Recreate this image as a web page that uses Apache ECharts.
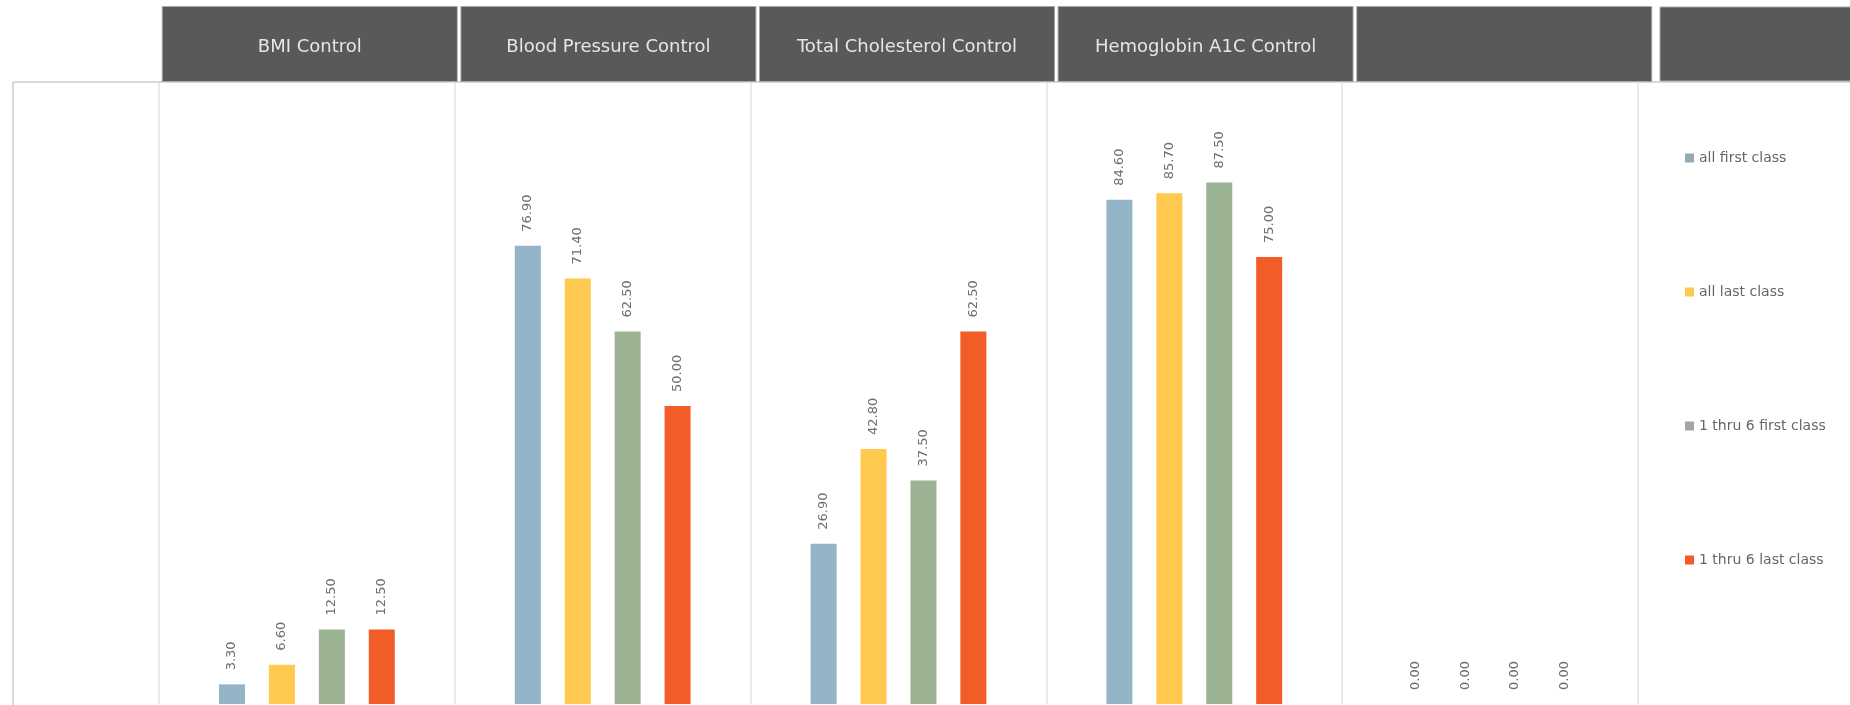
<!DOCTYPE html>
<html>
<head>
<meta charset="utf-8">
<script src="https://cdn.jsdelivr.net/npm/echarts@6/dist/echarts.min.js"></script>
<style>
html,body{margin:0;padding:0;background:#fff;}
#chart{width:1850px;height:705px;}
</style>
</head>
<body>
<div id="chart"></div>
<script>
const categories = ['BMI Control', 'Blood Pressure Control', 'Total Cholesterol Control', 'Hemoglobin A1C Control', ''];
const seriesNames = ['all first class', 'all last class', '1 thru 6 first class', '1 thru 6 last class'];
const allFirst = [3.30, 76.90, 26.90, 84.60, 0.00];
const allLast = [6.60, 71.40, 42.80, 85.70, 0.00];
const firstSix = [12.50, 62.50, 37.50, 87.50, 0.00];
const lastSix = [12.50, 50.00, 62.50, 75.00, 0.00];
const barColors = ['#93B4C6', '#FFC94F', '#9BB293', '#F25C26'];
const legendColors = ['#93A9B6', '#FFC94F', '#A5A5A5', '#F25C26'];

const chart = echarts.init(document.getElementById('chart'));
const values = [allFirst, allLast, firstSix, lastSix];

const labelCfg = {
  show: true,
  position: 'top',
  rotate: 90,
  align: 'left',
  verticalAlign: 'middle',
  distance: 14,
  color: '#6e6e6e',
  fontSize: 13,
  fontFamily: 'DejaVu Sans',
  formatter: p => Number(p.value).toFixed(2)
};

chart.setOption({
  animation: false,
  backgroundColor: '#ffffff',
  grid: [
    { left: 159, right: 212, top: 83, bottom: 1, containLabel: false },
    { left: 160.5, right: 196.5, top: 83, height: 10, containLabel: false }
  ],
  xAxis: [
    {
      type: 'category',
      gridIndex: 0,
      position: 'top',
      data: categories,
      axisLine: { show: false },
      axisTick: { show: false },
      axisLabel: { show: false },
      splitLine: { show: true, lineStyle: { color: '#e9e9e9', width: 2 } }
    },
    {
      type: 'category',
      gridIndex: 1,
      position: 'top',
      data: categories,
      axisLine: { show: false },
      axisTick: { show: false },
      splitLine: { show: false },
      axisLabel: {
        interval: 0,
        margin: 2,
        formatter: v => v === '' ? '\u00a0' : v,
        color: '#E6E6E6',
        fontSize: 18,
        fontFamily: 'DejaVu Sans',
        backgroundColor: '#595959',
        borderColor: '#a8a8a8',
        borderWidth: 1,
        width: 294,
        lineHeight: 68,
        padding: [6, 0, 0, 0],
        align: 'center',
        overflow: 'truncate'
      }
    }
  ],
  yAxis: [
    { type: 'value', gridIndex: 0, min: 0, max: 104.2, show: false, splitLine: { show: false } },
    { type: 'value', gridIndex: 1, min: 0, max: 1, show: false, splitLine: { show: false } }
  ],
  legend: {
    orient: 'vertical',
    left: 1680,
    top: 146,
    itemWidth: 9,
    itemHeight: 9,
    itemGap: 120,
    icon: 'rect',
    textStyle: { color: '#666666', fontSize: 14, fontFamily: 'DejaVu Sans' },
    data: seriesNames.map((n, i) => ({ name: n, itemStyle: { color: legendColors[i] } }))
  },
  graphic: [
    { type: 'line', silent: true, shape: { x1: 13, y1: 82, x2: 1850, y2: 82 }, style: { stroke: '#d9d9d9', lineWidth: 2 } },
    { type: 'line', silent: true, shape: { x1: 13, y1: 82, x2: 13, y2: 705 }, style: { stroke: '#d9d9d9', lineWidth: 2 } },
    { type: 'rect', silent: true, shape: { x: 1660, y: 7, width: 200, height: 74 }, style: { fill: '#595959', stroke: '#a8a8a8', lineWidth: 1 } }
  ],
  series: seriesNames.map((n, i) => ({
    name: n,
    type: 'bar',
    xAxisIndex: 0,
    yAxisIndex: 0,
    data: values[i],
    barWidth: 26,
    barGap: '92%',
    itemStyle: { color: barColors[i] },
    label: labelCfg
  }))
});
</script>
</body>
</html>
